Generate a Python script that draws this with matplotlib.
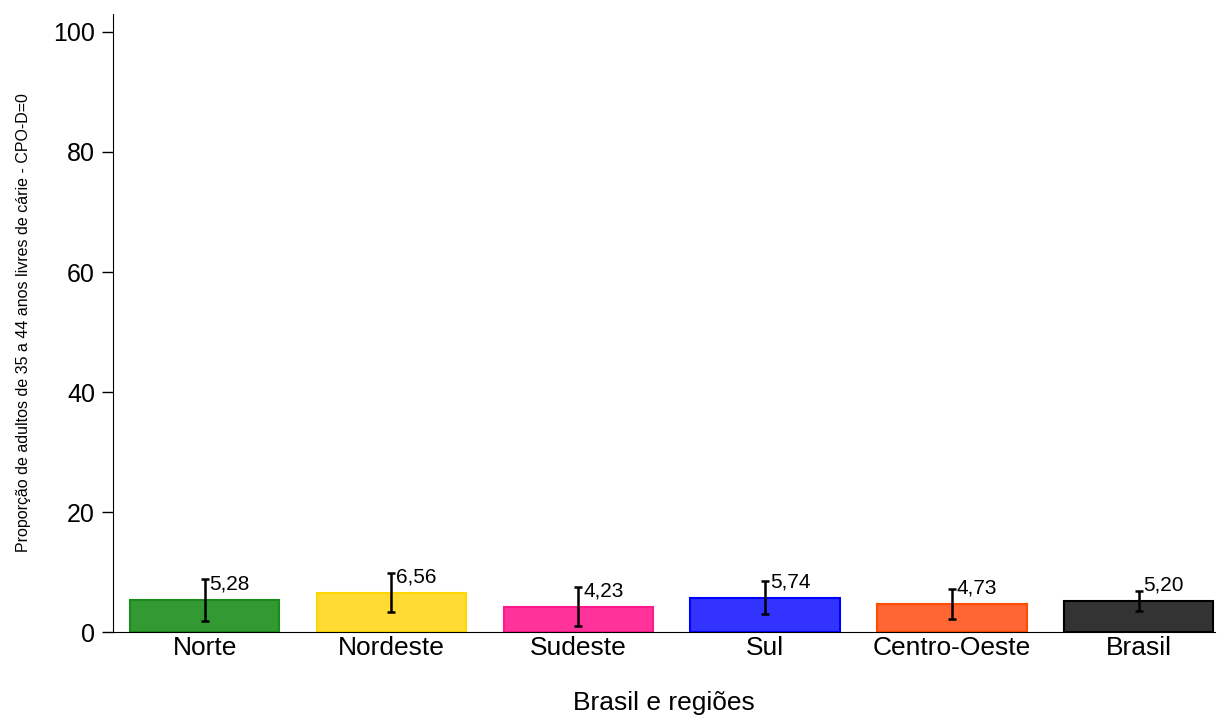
import numpy as np
import matplotlib
matplotlib.use("Agg")
from matplotlib import pyplot as plt

plt.rcParams['font.family'] = ['Liberation Sans', 'DejaVu Sans']

regioes = ['Norte', 'Nordeste', 'Sudeste', 'Sul', 'Centro-Oeste', 'Brasil']
valores = [5.28, 6.56, 4.23, 5.74, 4.73, 5.20]
erros = [3.5, 3.25, 3.3, 2.78, 2.5, 1.72]
rotulos = ['5,28', '6,56', '4,23', '5,74', '4,73', '5,20']

cores = ['#339933', '#ffdb33', '#ff3399', '#3333ff', '#ff6633', '#333333']
bordas = ['#1a8a1a', '#ffd700', '#ff1a8c', '#0000ff', '#ff4d00', '#000000']

fig = plt.figure(figsize=(12.18, 7.17), dpi=100)
ax = fig.add_axes([0.0928, 0.1185, 0.905, 0.862])

x = np.arange(len(regioes))
ax.bar(x, valores, width=0.8, color=cores, edgecolor=bordas, linewidth=1.5, zorder=2)
ax.errorbar(x, valores, yerr=erros, fmt='none', ecolor='black', elinewidth=1.8,
            capsize=3, capthick=1.8, zorder=3)

# rotulos ficam um pouco acima do topo da barra, a direita da barra de erro
for xi, v, t in zip(x, valores, rotulos):
    ax.annotate(t, (xi, v), xytext=(3.5, 11.5), textcoords='offset points',
                ha='left', va='center', fontsize=15)

ax.set_xlim(-0.49, 5.41)
ax.set_ylim(0, 103)
ax.set_yticks([0, 20, 40, 60, 80, 100])
ax.set_xticks(x)
ax.set_xticklabels(regioes, fontsize=19)
ax.tick_params(axis='y', labelsize=18, length=8, width=1, pad=5)
ax.tick_params(axis='x', length=0, pad=3)

for s in ['top', 'right']:
    ax.spines[s].set_visible(False)

ax.set_xlabel('Brasil e regiões', fontsize=19, labelpad=22)
ax.set_ylabel('Proporção de adultos de 35 a 44 anos livres de cárie - CPO-D=0', fontsize=11.5, labelpad=16)

fig.savefig('out.png', dpi=100)
